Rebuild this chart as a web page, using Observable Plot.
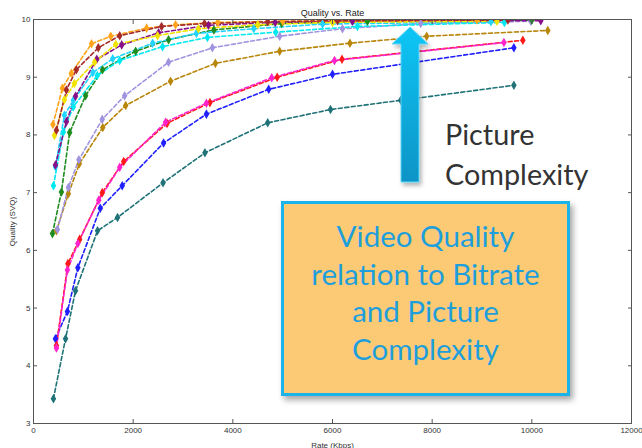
<!DOCTYPE html>
<html><head><meta charset="utf-8">
<script src="https://cdn.jsdelivr.net/npm/d3@7"></script>
<script src="https://cdn.jsdelivr.net/npm/@observablehq/plot@0.6"></script>
<style>
body{margin:0;background:#fff;}
#wrap{position:relative;width:642px;height:448px;overflow:hidden;background:#fff;}
#wrap svg.plot{position:absolute;left:0;top:0;}
#box{position:absolute;left:281px;top:201px;width:283px;height:176px;background:#fcca75;border:3px solid #1ab4ea;box-shadow:3px 4px 6px rgba(0,0,0,0.35);font-family:Lato,"Open Sans",sans-serif;color:#1e9fdc;text-align:center;font-size:29.5px;line-height:37.5px;padding-top:13px;box-sizing:content-box;}
#pc{position:absolute;left:445px;top:114px;font-family:Lato,"Open Sans",sans-serif;color:#333;font-size:28.8px;line-height:40px;}
#arrow{position:absolute;left:0;top:0;pointer-events:none;}
</style>
</head><body>
<div id="wrap"></div>
<script>
const title = "Quality vs. Rate";
const xLabel = "Rate (Kbps)";
const yLabel = "Quality (SVQ)";
const xTicks = [0, 2000, 4000, 6000, 8000, 10000, 12000];
const yTicks = [3, 4, 5, 6, 7, 8, 9, 10];

const seriesNames = ["teal","blue","red","magenta","goldenrod","lavender","green","cyan1","cyan2","purple","yellow","orange","brown"];
const seriesColors = ["#1f7277","#1f1fff","#ff1a1a","#ff22cc","#b8860b","#a094e0","#1e8c1e","#00e8f0","#22d4ff","#86108a","#f2e200","#ffa31a","#a52a2a"];

const teal_rate = [400, 643, 843, 1285, 1687, 2600, 3440, 4700, 5960, 7370, 9640];
const teal_q    = [3.43, 4.47, 5.30, 6.34, 6.57, 7.17, 7.69, 8.21, 8.44, 8.60, 8.86];
const blue_rate = [440, 680, 890, 1340, 1780, 2610, 3470, 4720, 6000, 9640];
const blue_q    = [4.47, 4.94, 5.70, 6.73, 7.12, 7.86, 8.36, 8.79, 9.05, 9.51];
const red_rate  = [460, 690, 925, 1380, 1810, 2680, 3540, 4890, 6190, 9820];
const red_q     = [4.35, 5.77, 6.19, 7.00, 7.54, 8.20, 8.56, 9.00, 9.31, 9.64];
const magenta_rate = [460, 680, 890, 1310, 1730, 2650, 3470, 4780, 6040, 9440];
const magenta_q    = [4.31, 5.66, 6.12, 6.87, 7.44, 8.22, 8.55, 8.99, 9.29, 9.60];
const goldenrod_rate = [460, 700, 920, 1390, 1850, 2750, 3650, 4940, 6350, 7890, 10320];
const goldenrod_q    = [6.34, 6.98, 7.50, 8.13, 8.51, 8.93, 9.24, 9.45, 9.59, 9.71, 9.81];
const lavender_rate = [480, 700, 910, 1380, 1830, 2710, 3590, 4940, 6200, 7770, 9980];
const lavender_q    = [6.36, 7.09, 7.57, 8.27, 8.68, 9.26, 9.51, 9.71, 9.84, 9.93, 9.97];
const green_rate = [380, 560, 725, 1045, 1385, 2050, 2710, 3620, 4980, 6700, 10000];
const green_q    = [6.29, 7.01, 8.04, 8.68, 9.13, 9.45, 9.65, 9.82, 9.93, 9.97, 9.99];
const cyan1_rate = [400, 600, 800, 1280, 1730, 2590, 3490, 4860, 6500, 9450];
const cyan1_q    = [7.12, 8.05, 8.49, 9.03, 9.29, 9.53, 9.69, 9.78, 9.88, 9.95];
const cyan2_rate = [440, 620, 800, 1190, 1590, 2390, 3270, 4420, 5800, 9180];
const cyan2_q    = [7.45, 8.34, 8.60, 9.08, 9.32, 9.59, 9.76, 9.84, 9.92, 9.96];
const purple_rate = [440, 660, 843, 1270, 1770, 2510, 3510, 4850, 6400, 10180];
const purple_q    = [7.48, 8.23, 8.67, 9.31, 9.56, 9.77, 9.90, 9.95, 9.97, 9.98];
const yellow_rate = [420, 620, 820, 1225, 1650, 2490, 3310, 4500, 6000, 9300];
const yellow_q    = [7.99, 8.61, 8.89, 9.26, 9.57, 9.72, 9.84, 9.91, 9.95, 9.97];
const orange_rate = [390, 580, 760, 1165, 1550, 2270, 2850, 3700, 5000, 8900];
const orange_q    = [8.18, 8.81, 9.07, 9.58, 9.71, 9.85, 9.91, 9.95, 9.97, 9.99];
const brown_rate = [460, 660, 860, 1300, 1730, 2570, 3430, 4700, 6100, 9520];
const brown_q    = [8.08, 8.78, 9.13, 9.51, 9.72, 9.88, 9.93, 9.96, 9.98, 9.99];

const seriesData = [
  [teal_rate, teal_q], [blue_rate, blue_q], [red_rate, red_q], [magenta_rate, magenta_q],
  [goldenrod_rate, goldenrod_q], [lavender_rate, lavender_q], [green_rate, green_q],
  [cyan1_rate, cyan1_q], [cyan2_rate, cyan2_q], [purple_rate, purple_q],
  [yellow_rate, yellow_q], [orange_rate, orange_q], [brown_rate, brown_q]
];

const data = seriesData.flatMap(([rates, qs], i) =>
  rates.map((r, j) => ({series: seriesNames[i], rate: r, q: qs[j]})));

const blank = () => "";
const plain = d => String(d);
const chart = Plot.plot({
  width: 642, height: 448,
  marginLeft: 33, marginRight: 11, marginTop: 19, marginBottom: 25,
  x: {domain: [0, 12000]},
  y: {domain: [3, 10]},
  color: {domain: seriesNames, range: seriesColors},
  style: {fontFamily: "'Liberation Sans', Arial, sans-serif", fontSize: "8px", color: "#333", background: "#fff"},
  marks: [
    Plot.line(data, {x: "rate", y: "q", z: "series", stroke: "series", strokeWidth: 1.6, strokeDasharray: "4,2.5", clip: true}),
    Plot.dot(data, {x: "rate", y: "q", fill: "series", symbol: "diamond", r: 2.9, clip: true}),
    Plot.frame({stroke: "#555", strokeWidth: 1}),
    Plot.axisX(xTicks, {tickSize: 0, tickPadding: 4, tickFormat: plain, label: xLabel, labelAnchor: "center", labelOffset: 24, labelArrow: "none"}),
    Plot.axisY(yTicks, {tickSize: 0, tickPadding: 3, tickFormat: plain, label: yLabel, labelAnchor: "center", labelOffset: 24, labelArrow: "none"}),
    Plot.axisX(xTicks, {tickSize: -4, tickFormat: blank, label: null, stroke: "#555"}),
    Plot.axisX(xTicks, {anchor: "top", tickSize: -4, tickFormat: blank, label: null, stroke: "#555"}),
    Plot.axisY(yTicks, {tickSize: -4, tickFormat: blank, label: null, stroke: "#555"}),
    Plot.axisY(yTicks, {anchor: "right", tickSize: -4, tickFormat: blank, label: null, stroke: "#555"}),
    Plot.text([title], {frameAnchor: "top", dy: -10, fill: "#222", fontSize: 9})
  ]
});
chart.classList.add("plot");
const wrap = document.getElementById("wrap");
wrap.appendChild(chart);

// annotation arrow
const ns = "http://www.w3.org/2000/svg";
const arrowSvg = document.createElementNS(ns, "svg");
arrowSvg.setAttribute("id", "arrow");
arrowSvg.setAttribute("width", 642);
arrowSvg.setAttribute("height", 448);
arrowSvg.innerHTML = `
<defs>
  <linearGradient id="ag" x1="0" y1="0" x2="0" y2="1">
    <stop offset="0" stop-color="#10c6f6"/>
    <stop offset="1" stop-color="#0894c6"/>
  </linearGradient>
  <filter id="sh" x="-50%" y="-10%" width="200%" height="130%">
    <feDropShadow dx="2" dy="3" stdDeviation="2" flood-color="#000" flood-opacity="0.3"/>
  </filter>
</defs>
<polygon points="410,27 428,44 419,44 419,182 401,182 401,44 392,44" fill="url(#ag)" stroke="#5fd6f7" stroke-width="1" filter="url(#sh)"/>`;
wrap.appendChild(arrowSvg);

const pc = document.createElement("div");
pc.id = "pc";
pc.innerHTML = "Picture<br>Complexity";
wrap.appendChild(pc);

const box = document.createElement("div");
box.id = "box";
box.innerHTML = "Video Quality<br>relation to Bitrate<br>and Picture<br>Complexity";
wrap.appendChild(box);
</script>
</body></html>
